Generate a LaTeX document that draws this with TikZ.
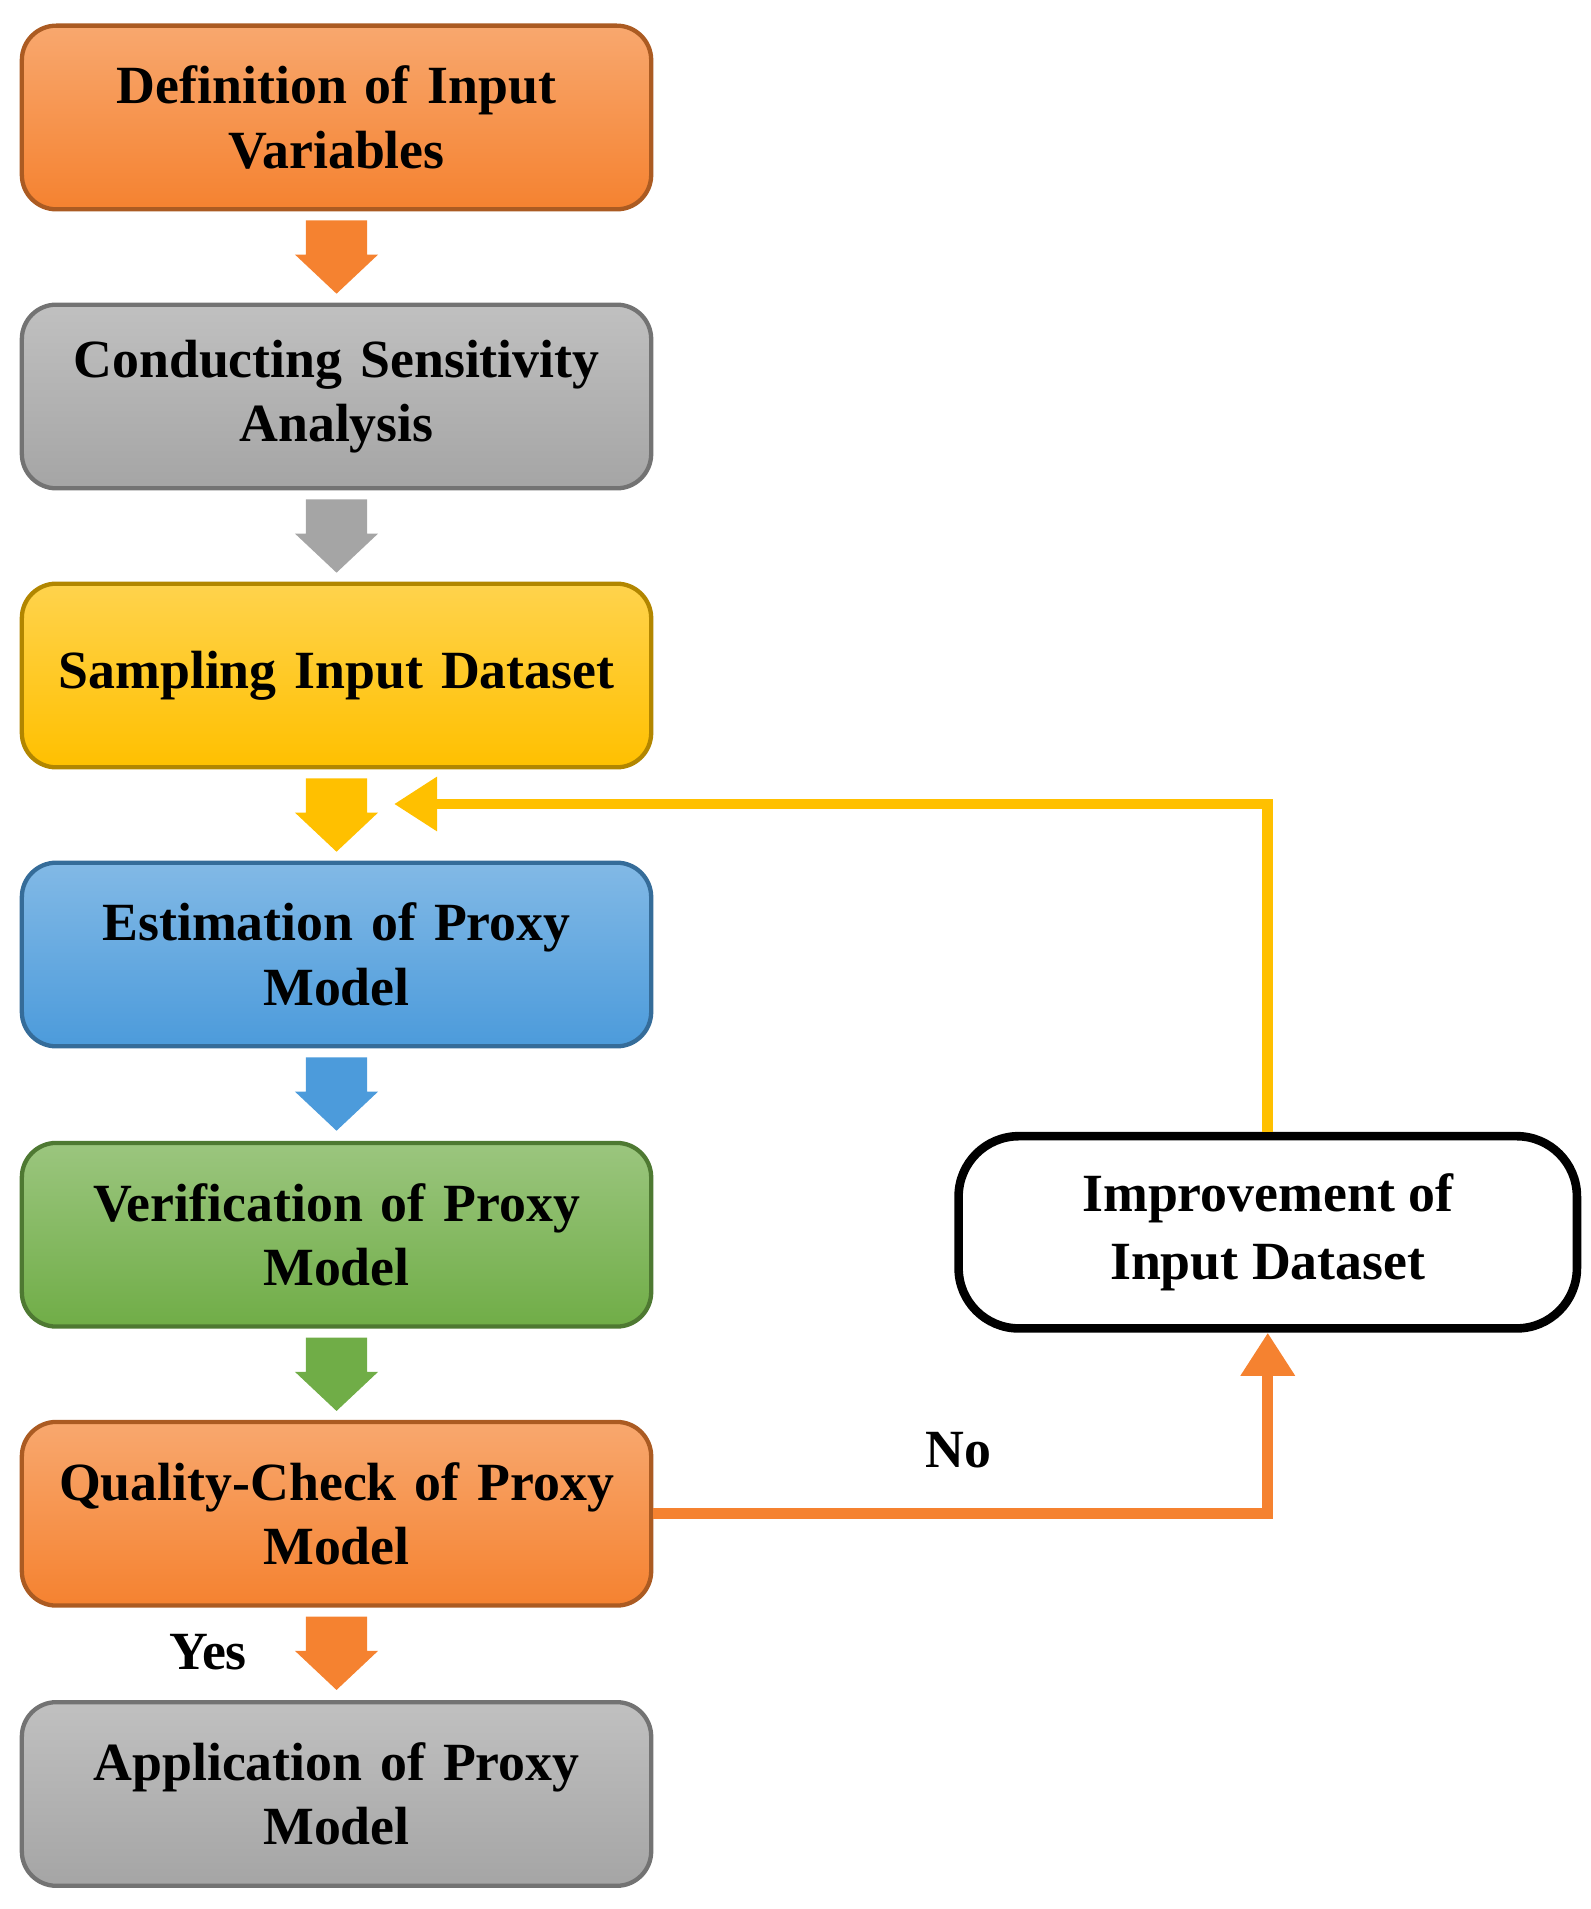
\documentclass[tikz,border=0pt]{standalone}
\usepackage{fontspec}
\setmainfont{Liberation Serif}
\usetikzlibrary{arrows.meta}
\begin{document}
\begin{tikzpicture}[x=0.01cm,y=-0.01cm,
 box/.style={draw=#1!70!black,line width=1pt,rounded corners=8pt,minimum width=5.14cm,minimum height=1.5cm,text width=5cm,inner sep=0pt,
   top color=#1!70!white,bottom color=#1,align=center,font=\fontsize{12.5}{15}\selectfont\bfseries,text=black},
 lab/.style={font=\fontsize{12.5}{15}\selectfont\bfseries}]
\useasboundingbox (0,0) rectangle (1300,1560);
\definecolor{cor}{HTML}{F58230}
\definecolor{cgr}{HTML}{A5A5A5}
\definecolor{cye}{HTML}{FFC000}
\definecolor{cbl}{HTML}{4C9BDB}
\definecolor{cgn}{HTML}{70AD47}
\newcommand\darrow[2]{\fill[#1] (250,#2) -- (300,#2) -- (300,#2+28) -- (309,#2+28) -- (275,#2+60) -- (241,#2+28) -- (250,#2+28) -- cycle;}
\node[box=cor] (b1) at (275,96) {Definition of Input\\Variables};
\node[box=cgr] (b2) at (275,324) {Conducting Sensitivity\\Analysis};
\node[box=cye] (b3) at (275,552) {Sampling Input Dataset};
\node[box=cbl] (b4) at (275,780) {Estimation of Proxy\\Model};
\node[box=cgn] (b5) at (275,1009) {Verification of Proxy\\Model};
\node[box=cor] (b6) at (275,1237) {Quality-Check of Proxy\\Model};
\node[box=cgr] (b7) at (275,1466) {Application of Proxy\\Model};
\darrow{cor}{180}
\darrow{cgr}{408}
\darrow{cye}{636}
\darrow{cbl}{864}
\darrow{cgn}{1093}
\darrow{cor}{1321}
\node[draw=black,line width=2pt,rounded corners=14pt,minimum width=5.05cm,minimum height=1.57cm,align=center,
  font=\fontsize{12.5}{16}\selectfont\bfseries] (imp) at (1036,1007) {Improvement of\\Input Dataset};
\coordinate (t) at (322,657);
\draw[cye,line width=2.5pt,-{Triangle[length=10pt,width=12pt]}] (imp.north) |- (t);
\draw[cor,line width=2.5pt,-{Triangle[length=10pt,width=12pt]}] (b6.east) -| (imp.south);
\node[lab] (no) at (783,1185) {No};
\node[lab] (yes) at (170,1350) {Yes};
\end{tikzpicture}
\end{document}
